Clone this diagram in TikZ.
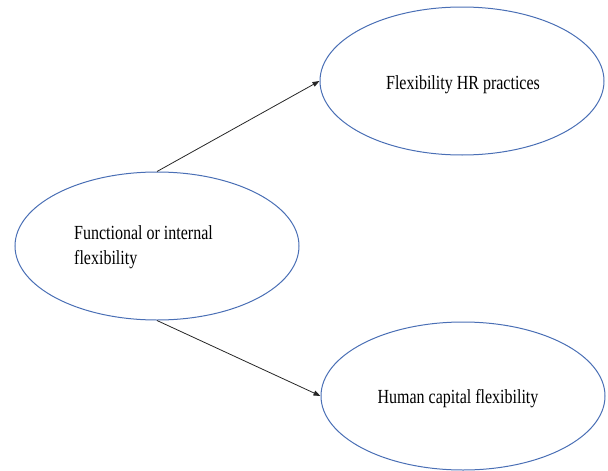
\documentclass[tikz,border=0pt]{standalone}
\usepackage{fontspec}
\setmainfont{Liberation Serif}[FakeStretch=0.8]
\usetikzlibrary{shapes.geometric,arrows.meta}
\tikzset{
  oval/.style={draw=ovalblue, line width=1pt, ellipse, minimum width=284pt, minimum height=148pt, inner sep=0pt},
  lbl/.style={inner sep=0pt, font=\fontsize{20pt}{25pt}\selectfont},
  conn/.style={draw=black!85, line width=0.8pt, -{Triangle[length=7pt,width=5pt]}}
}
\definecolor{ovalblue}{HTML}{4A6FB5}
\begin{document}
\begin{tikzpicture}[x=1pt,y=-1pt]
\useasboundingbox (0,0) rectangle (608,471);
\node[oval] (L) at (157,246) {};
\node[oval] (T) at (462,81) {};
\node[oval] (B) at (463,396) {};
\node[lbl, anchor=north west, align=left] (Lt) at (74,225.5) {Functional or internal\\flexibility};
\node[lbl, anchor=base] (Tt) at (463,89) {Flexibility HR practices};
\node[lbl, anchor=base] (Bt) at (458,403) {Human capital flexibility};
\draw[conn] (L.north) -- (T.west);
\draw[conn] (L.south) -- (B.west);
\end{tikzpicture}
\end{document}
